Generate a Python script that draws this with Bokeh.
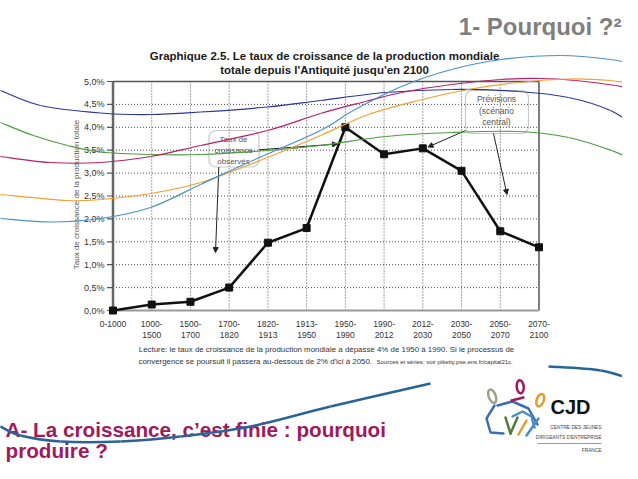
import numpy as np
from bokeh.plotting import figure
from bokeh.models import Range1d, BoxAnnotation, Arrow, NormalHead
from bokeh.core.properties import value
from bokeh.embed import file_html
from bokeh.resources import INLINE

# ---------------- data ----------------
periods = ["0-1000", "1000-1500", "1500-1700", "1700-1820", "1820-1913",
           "1913-1950", "1950-1990", "1990-2012", "2012-2030", "2030-2050",
           "2050-2070", "2070-2100"]
growth_pct = [0.0, 0.13, 0.19, 0.50, 1.48, 1.80, 4.00, 3.41, 3.54, 3.05, 1.73, 1.38]
y_ticks = [0.0, 0.5, 1.0, 1.5, 2.0, 2.5, 3.0, 3.5, 4.0, 4.5, 5.0]
y_tick_labels = ["0,0%", "0,5%", "1,0%", "1,5%", "2,0%", "2,5%", "3,0%",
                 "3,5%", "4,0%", "4,5%", "5,0%"]

slide_title = "1- Pourquoi ?²"
chart_title = ["Graphique 2.5. Le taux de croissance de la production mondiale",
               "totale depuis l'Antiquité jusqu'en 2100"]
y_axis_title = "Taux de croissance de la production totale"
note_line1 = ("Lecture: le taux de croissance de la production mondiale a dépassé "
              "4% de 1950 à 1990. Si le processus de")
note_line2 = "convergence se poursuit il passera au-dessous de 2% d'ici à 2050."
note_sources = "Sources et séries: voir piketty.pse.ens.fr/capital21c."
box_observed = ["Taux de", "croissance", "observés"]
box_forecast = ["Prévisions", "(scénario", "central)"]
section_title = ["A- La croissance, c’est finie : pourquoi", "produire ?"]
logo_name = "CJD"
logo_lines = ["CENTRE DES JEUNES", "DIRIGEANTS D'ENTREPRISE"]
logo_country = "FRANCE"

# ---------------- geometry (slide pixels -> data) ----------------
X_LEFT, X_RIGHT = 112.5, 538.5
Y_ZERO, Y_FIVE = 310.0, 81.0
N = len(periods)
SX = (X_RIGHT - X_LEFT) / (N - 1)
SY = (Y_ZERO - Y_FIVE) / 5.0
W, H = 622, 463


def rx(px):
    a = (np.asarray(px, float) - X_LEFT) / SX
    return float(a) if a.ndim == 0 else a.tolist()


def ry(py):
    a = (Y_ZERO - np.asarray(py, float)) / SY
    return float(a) if a.ndim == 0 else a.tolist()


FONT = value("Liberation Sans")

p = figure(width=W, height=H,
           x_range=Range1d(rx(0), rx(W)),
           y_range=Range1d(ry(H), ry(0)),
           min_border=0, toolbar_location=None, output_backend="svg",
           x_axis_location=None, y_axis_location=None,
           outline_line_color=None,
           background_fill_color="white", border_fill_color="white")
p.xgrid.visible = False
p.ygrid.visible = False


def txt(xs, ys, texts, size, color="#222", align="center", style="normal",
        angle=0.0, baseline="middle", level="glyph"):
    if not isinstance(texts, list):
        texts = [texts]
    if not isinstance(xs, list):
        xs = [xs] * len(texts)
    if not isinstance(ys, list):
        ys = [ys] * len(texts)
    p.text(x=xs, y=ys, text=texts, text_font=FONT, text_font_size=size,
           text_color=color, text_align=align, text_baseline=baseline,
           text_font_style=style, angle=angle, level=level)


# ---------------- chart grid & frame ----------------
inner_h = [t for t in y_ticks if 0 < t < 5]
p.segment(x0=[0] * len(inner_h), y0=inner_h, x1=[N - 1] * len(inner_h), y1=inner_h,
          line_color="#4a4a4a", line_width=1, line_dash="1 2")
inner_v = list(range(1, N - 1))
p.segment(x0=inner_v, y0=[0] * len(inner_v), x1=inner_v, y1=[5] * len(inner_v),
          line_color="#4a4a4a", line_width=1, line_dash="1 2")
p.line(x=[0, N - 1, N - 1], y=[5, 5, 0], line_color="#555555", line_width=1.5)
p.line(x=[0, N - 1], y=[0, 0], line_color="#9a9a9a", line_width=2)
p.line(x=[0, 0], y=[0, 5], line_color="#666666", line_width=2.5)
p.segment(x0=[rx(106.5)] * len(y_ticks), y0=y_ticks, x1=[0] * len(y_ticks), y1=y_ticks,
          line_color="#555555", line_width=1.2)

# ---------------- data series ----------------
xs_idx = list(range(N))
p.line(x=xs_idx, y=growth_pct, line_color="#111111", line_width=2.5)
p.scatter(x=xs_idx, y=growth_pct, marker="square", size=7,
          fill_color="#111111", line_color="#111111")

# ---------------- axis texts ----------------
txt(rx(104), y_ticks, y_tick_labels, "9px", color="#333333", align="right")
top_lbl = [s if i == 0 else s.split("-")[0] + "-" for i, s in enumerate(periods)]
bot_lbl = ["" if i == 0 else s.split("-")[1] for i, s in enumerate(periods)]
txt(xs_idx, ry(323), top_lbl, "8.5px", color="#333333")
txt(xs_idx, ry(334), bot_lbl, "8.5px", color="#333333")
txt(rx(76), ry(194), y_axis_title, "8px", color="#555555", angle=np.pi / 2)

txt(rx(324), ry(55), chart_title[0], "11.5px", color="#1a1a1a", style="bold")
txt(rx(324), ry(69.5), chart_title[1], "11.5px", color="#1a1a1a", style="bold")

txt(rx(326), ry(349), note_line1, "7.9px", color="#333333")
txt(rx(138), ry(361), note_line2, "7.9px", color="#333333", align="left")
txt(rx(376), ry(361.5), note_sources, "6px", color="#333333", align="left")

# ---------------- call-out boxes ----------------
p.add_layout(BoxAnnotation(left=rx(208.5), right=rx(258.5), top=ry(130), bottom=ry(166.5),
                           border_radius=7, fill_color=None, line_color="#4d4d4d",
                           line_width=1.2))
p.add_layout(BoxAnnotation(left=rx(465), right=rx(528), top=ry(90), bottom=ry(133),
                           border_radius=7, fill_color=None, line_color="#4d4d4d",
                           line_width=1.2))
txt(rx(233), ry([139.3, 150.3, 160.7]), box_observed, "8px", color="#555555")
txt(rx(496), ry([98.5, 110.5, 121.5]), box_forecast, "8.5px", color="#555555")

arrows = [((218.3, 166.5), (215, 252)),
          ((258.5, 149.3), (337, 143.5)),
          ((465, 130), (427.5, 146.5)),
          ((493, 133), (506.5, 194))]
for (sx0, sy0), (sx1, sy1) in arrows:
    p.add_layout(Arrow(end=NormalHead(size=5, fill_color="#222222", line_color="#222222"),
                       x_start=rx(sx0), y_start=ry(sy0), x_end=rx(sx1), y_end=ry(sy1),
                       line_color="#222222", line_width=1))

# ---------------- slide texts ----------------
txt(rx(621), ry(26), slide_title, "24px", color="#7f7f7f", align="right", style="bold")
txt(rx(5), ry(429), section_title[0], "20.7px", color="#a0195c", align="left", style="bold")
txt(rx(5), ry(450), section_title[1], "20.7px", color="#a0195c", align="left", style="bold")


# ---------------- decorative slide curves ----------------
def catmull_bezier(pts):
    P = np.asarray(pts, float)
    P = np.vstack([P[0], P, P[-1]])
    out = {k: [] for k in ("x0", "y0", "x1", "y1", "cx0", "cy0", "cx1", "cy1")}
    for i in range(1, len(P) - 2):
        p0, p1, p2, p3 = P[i - 1], P[i], P[i + 1], P[i + 2]
        c1 = p1 + (p2 - p0) / 6.0
        c2 = p2 - (p3 - p1) / 6.0
        out["x0"].append(rx(p1[0])); out["y0"].append(ry(p1[1]))
        out["x1"].append(rx(p2[0])); out["y1"].append(ry(p2[1]))
        out["cx0"].append(rx(c1[0])); out["cy0"].append(ry(c1[1]))
        out["cx1"].append(rx(c2[0])); out["cy1"].append(ry(c2[1]))
    return out


swoosh_navy = [(0, 90), (40, 105), (100, 112.5), (150, 114), (200, 111.5), (267, 106.5),
               (320, 100), (385, 92), (451, 89), (518, 91), (568, 97), (610, 110), (638, 128)]
swoosh_green = [(0, 122), (33, 135), (67, 145), (100, 151.5), (150, 154), (200, 154),
                (267, 150), (320, 145), (385, 136), (451, 132), (518, 131), (568, 137),
                (611, 150), (638, 162)]
swoosh_magenta = [(0, 156), (50, 162), (100, 162), (150, 156), (200, 145), (267, 130),
                  (320, 113), (365, 101), (401, 92), (451, 84), (500, 79), (540, 78),
                  (575, 80), (615, 85), (638, 90)]
swoosh_orange = [(0, 194), (67, 200), (100, 199), (150, 193), (200, 182), (267, 157),
                 (320, 135), (368, 114), (418, 100), (468, 89), (518, 82), (568, 78.5),
                 (610, 80), (638, 85)]
swoosh_light = [(0, 218), (50, 221.5), (100, 218), (150, 207), (200, 184), (250, 161),
                (320, 130), (351, 111), (401, 86), (451, 69), (501, 59), (560, 55),
                (610, 59), (638, 65)]
swoosh_bottom_left = [(0, 426), (20, 435), (60, 441), (120, 441), (180, 436), (250, 426),
                      (330, 406), (430, 383)]
swoosh_bottom_right = [(548, 366), (600, 370), (638, 381)]

for pts, col, lw in [(swoosh_navy, "#2b3990", 1.2), (swoosh_green, "#4c9b3f", 1.2),
                     (swoosh_magenta, "#b81f68", 1.2), (swoosh_orange, "#f0a030", 1.2),
                     (swoosh_light, "#4a90c8", 1.2), (swoosh_bottom_left, "#2a6496", 2.5),
                     (swoosh_bottom_right, "#2a6496", 2.5)]:
    p.bezier(**catmull_bezier(pts), line_color=col, line_width=lw, level="overlay")

# ---------------- logo ----------------
LOGO_DY = -4
for (cx, cy, w, h, ang, col) in [(491.7, 399.7, 7, 14, 0.35, "#a39e86"),
                                 (519.7, 390.3, 7, 13, 0.1, "#a3195b"),
                                 (539.7, 403.7, 7, 13, -0.35, "#e59a2e")]:
    p.ellipse(x=[rx(cx)], y=[ry(cy + LOGO_DY)], width=[w / SX], height=[h / SY], angle=[ang],
              fill_color=None, line_color=col, line_width=2.5)

logo_strokes = [
    ([(494, 409), (486, 422), (490, 436), (503, 437)], "#3d6fb0"),
    ([(497, 409), (512, 405), (528, 412), (537, 428)], "#3d6fb0"),
    ([(512, 420), (522, 415), (531, 420), (534, 431)], "#4a8cc4"),
    ([(505, 421), (510, 437)], "#4e7d35"),
    ([(510, 437), (517, 421)], "#4e7d35"),
    ([(518, 438), (526, 424)], "#e59a2e"),
    ([(526, 439), (538, 422)], "#4a8cc4"),
    ([(511, 404), (523, 401)], "#a3195b"),
]
for pts, col in logo_strokes:
    p.line(x=[rx(a) for a, b in pts], y=[ry(b + LOGO_DY) for a, b in pts], line_color=col,
           line_width=2.5, line_cap="round")

txt(rx(570), ry(410 + LOGO_DY), logo_name, "20px", color="#111111", style="bold")
txt(rx(601), ry([430.5 + LOGO_DY, 440.5 + LOGO_DY]), logo_lines, "4.8px", color="#444444",
    align="right")
p.line(x=[rx(537), rx(601)], y=[ry(447 + LOGO_DY), ry(447 + LOGO_DY)], line_color="#999999",
       line_width=1)
txt(rx(601), ry(454 + LOGO_DY), logo_country, "4.8px", color="#444444", align="right")

open("out.html", "w").write(file_html(p, INLINE))
